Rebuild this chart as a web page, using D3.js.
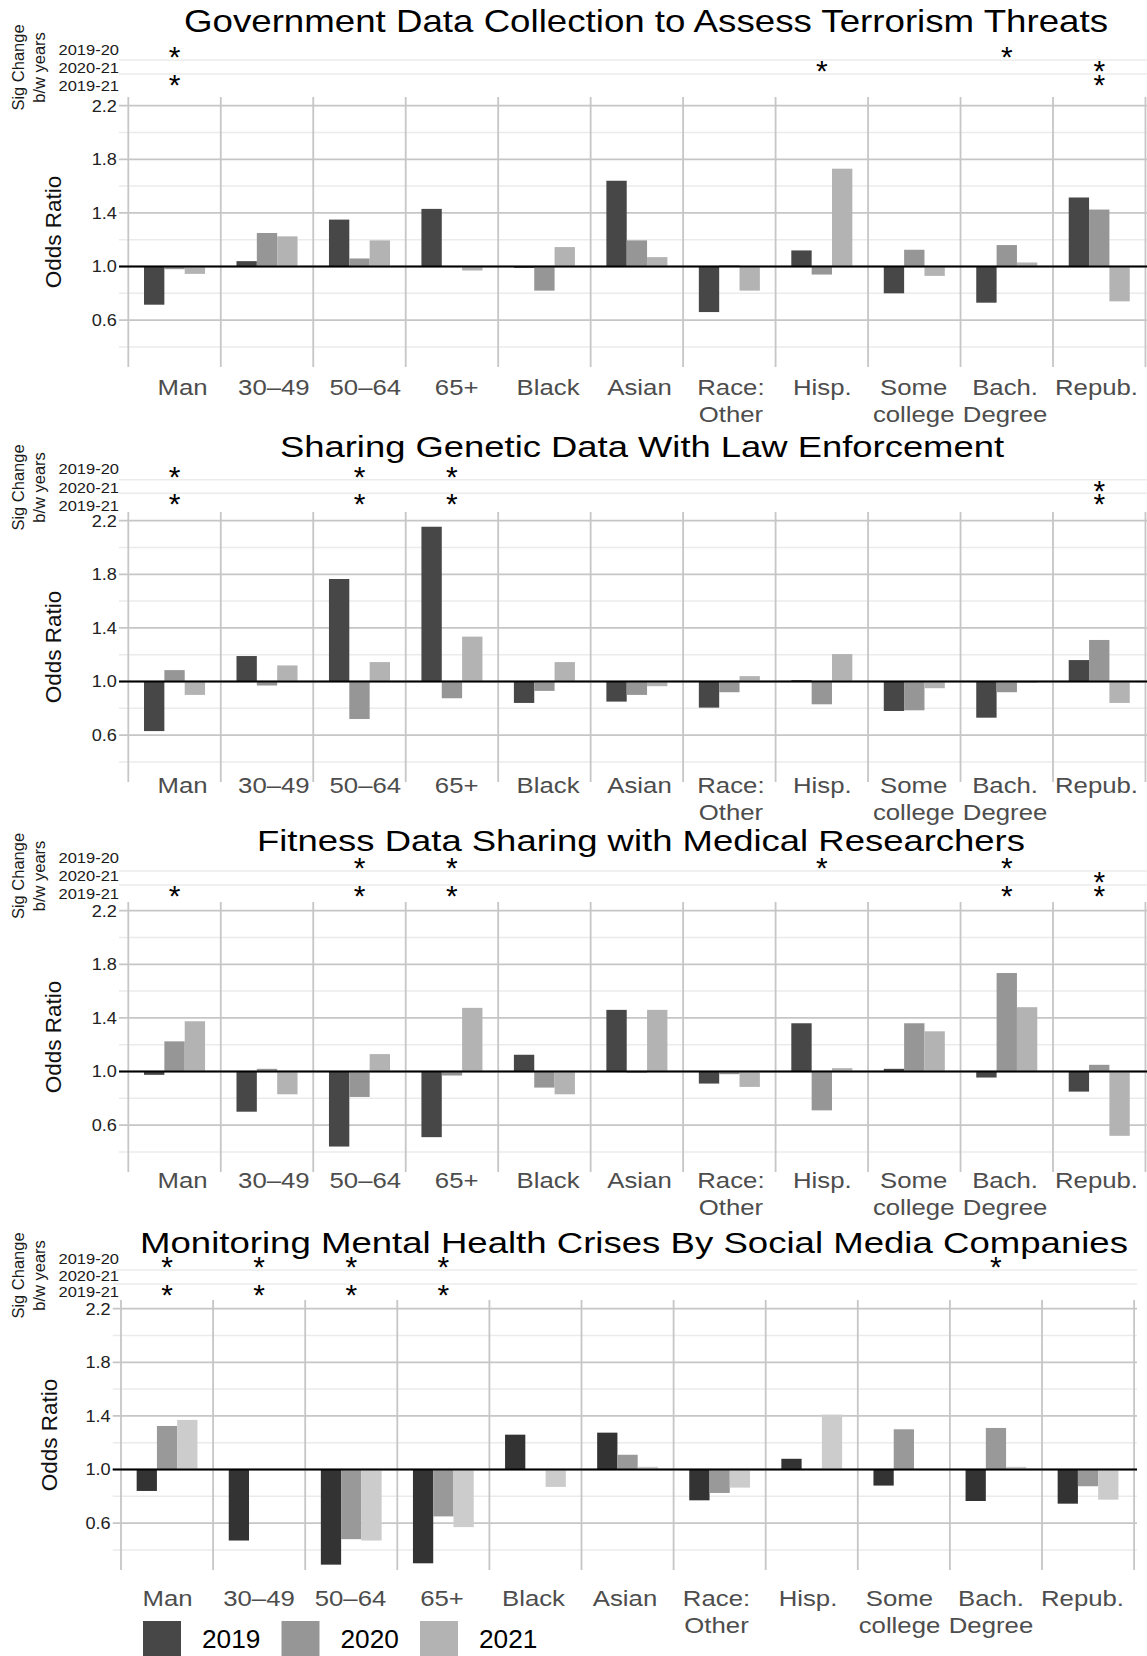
<!DOCTYPE html>
<html>
<head>
<meta charset="utf-8">
<script src="https://cdn.jsdelivr.net/npm/d3@7"></script>
<style>
  body { margin: 0; background: #fff; }
  svg { display: block; font-family: "Liberation Sans", Arial, sans-serif; }
</style>
</head>
<body>
<div id="chart"></div>
<script>
// ---- data ----
const categories = ["Man", "30–49", "50–64", "65+", "Black", "Asian", "Race:\nOther", "Hisp.", "Some\ncollege", "Bach.\nDegree", "Repub."]
const years = ["2019", "2020", "2021"]
const sigRows = ["2019-20", "2020-21", "2019-21"]
const yMajorTicks = [0.6, 1.0, 1.4, 1.8, 2.2]
const yMinorTicks = [0.4, 0.8, 1.2, 1.6, 2.0]

const titles = [
  "Government Data Collection to Assess Terrorism Threats",
  "Sharing Genetic Data With Law Enforcement",
  "Fitness Data Sharing with Medical Researchers",
  "Monitoring Mental Health Crises By Social Media Companies"
]

// odds ratios, one array per year, in category order
const terror2019 = [0.715, 1.04, 1.35, 1.43, 0.99, 1.64, 0.66, 1.12, 0.80, 0.73, 1.515]
const terror2020 = [0.98, 1.25, 1.06, 1.00, 0.82, 1.195, 1.01, 0.94, 1.125, 1.16, 1.425]
const terror2021 = [0.945, 1.225, 1.195, 0.97, 1.145, 1.07, 0.82, 1.73, 0.93, 1.03, 0.74]

const genetic2019 = [0.63, 1.19, 1.765, 2.155, 0.84, 0.85, 0.805, 1.01, 0.78, 0.73, 1.16]
const genetic2020 = [1.085, 0.97, 0.72, 0.875, 0.93, 0.90, 0.92, 0.83, 0.785, 0.92, 1.31]
const genetic2021 = [0.90, 1.12, 1.145, 1.335, 1.145, 0.965, 1.04, 1.205, 0.95, 0.99, 0.84]

const fitness2019 = [0.975, 0.70, 0.44, 0.51, 1.125, 1.46, 0.91, 1.36, 1.02, 0.955, 0.85]
const fitness2020 = [1.225, 1.02, 0.81, 0.97, 0.88, 0.99, 0.98, 0.71, 1.36, 1.735, 1.05]
const fitness2021 = [1.375, 0.83, 1.13, 1.475, 0.83, 1.46, 0.885, 1.025, 1.30, 1.48, 0.52]

const mental2019 = [0.84, 0.47, 0.29, 0.30, 1.26, 1.275, 0.77, 1.08, 0.88, 0.765, 0.745]
const mental2020 = [1.325, 1.00, 0.48, 0.65, 1.00, 1.11, 0.825, 1.00, 1.30, 1.31, 0.875]
const mental2021 = [1.37, 1.00, 0.47, 0.57, 0.87, 1.02, 0.865, 1.41, 1.00, 1.02, 0.775]

// significant change between years (categories marked with *)
const terrorSig = { "2019-20": ["Man", "Bach.\nDegree"], "2020-21": ["Hisp.", "Repub."], "2019-21": ["Man", "Repub."] }
const geneticSig = { "2019-20": ["Man", "50–64", "65+"], "2020-21": ["Repub."], "2019-21": ["Man", "50–64", "65+", "Repub."] }
const fitnessSig = { "2019-20": ["50–64", "65+", "Hisp.", "Bach.\nDegree"], "2020-21": ["Repub."], "2019-21": ["Man", "50–64", "65+", "Bach.\nDegree", "Repub."] }
const mentalSig = { "2019-20": ["Man", "30–49", "50–64", "65+", "Bach.\nDegree"], "2020-21": [], "2019-21": ["Man", "30–49", "50–64", "65+"] }

// ---- styles / layout ----
const W = 1147, H = 1656
const greysA = ["#474747", "#969696", "#b3b3b3"]
const greysB = ["#333333", "#999999", "#cccccc"]
const panelH = 270

const panels = [
  { title: titles[0], values: [terror2019, terror2020, terror2021], sig: terrorSig, fills: greysA,
    top: 97, x0: 128.3, step: 92.47, left: 119, right: 1160, titleX: 646, titleY: 32, titleW: 924, titleSize: 30.5,
    labY: [49.5, 85.5], starY: [53, 81], tickY: 395, labRange: [182, 1096], oddsX: 61 },
  { title: titles[1], values: [genetic2019, genetic2020, genetic2021], sig: geneticSig, fills: greysA,
    top: 512, x0: 128.3, step: 92.47, left: 119, right: 1160, titleX: 642, titleY: 457, titleW: 724, titleSize: 30,
    labY: [469, 506], starY: [473, 500], tickY: 793, labRange: [182, 1096], oddsX: 61 },
  { title: titles[2], values: [fitness2019, fitness2020, fitness2021], sig: fitnessSig, fills: greysA,
    top: 902, x0: 128.3, step: 92.47, left: 119, right: 1160, titleX: 641, titleY: 851, titleW: 768, titleSize: 29,
    labY: [858, 894], starY: [864, 892], tickY: 1188, labRange: [182, 1096], oddsX: 61 },
  { title: titles[3], values: [mental2019, mental2020, mental2021], sig: mentalSig, fills: greysB,
    top: 1300, x0: 121, step: 92.1, left: 112.7, right: 1137, titleX: 634, titleY: 1253, titleW: 988, titleSize: 30,
    labY: [1259, 1292], starY: [1263, 1291], tickY: 1606, labRange: [167, 1082], oddsX: 57 }
]

const svg = d3.select("#chart").append("svg")
  .attr("width", W)
  .attr("height", H)

svg.append("rect").attr("width", W).attr("height", H).attr("fill", "#fff")

const drawPanel = (p) => {
  const g = svg.append("g")
  const x = d3.scaleBand().domain(categories).range([p.x0, p.x0 + categories.length * p.step])
  const xYear = d3.scaleBand().domain(years).range([0, x.bandwidth() * 0.66])
  const xLab = d3.scalePoint().domain(categories).range(p.labRange)
  const y = d3.scaleLinear().domain([0.25, 2.265]).range([p.top + panelH, p.top])
  const yStar = d3.scalePoint().domain(sigRows).range(p.starY)
  const yLab = d3.scalePoint().domain(sigRows).range(p.labY)

  // title
  g.append("text")
    .attr("x", p.titleX)
    .attr("y", p.titleY)
    .attr("text-anchor", "middle")
    .attr("font-size", p.titleSize)
    .attr("textLength", p.titleW)
    .attr("lengthAdjust", "spacingAndGlyphs")
    .attr("fill", "#000")
    .text(p.title)

  // sig strip: faint separators between rows
  const sepY = [(yStar(sigRows[0]) + yStar(sigRows[1])) / 2, (yStar(sigRows[1]) + yStar(sigRows[2])) / 2]
  g.selectAll(".sep").data(sepY).join("line")
    .attr("x1", p.left).attr("x2", p.right)
    .attr("y1", d => d).attr("y2", d => d)
    .attr("stroke", "#ebebeb").attr("stroke-width", 1.5)

  g.selectAll(".siglab").data(sigRows).join("text")
    .attr("transform", r => `translate(119,${yLab(r)}) scale(1.1,1)`)
    .attr("text-anchor", "end")
    .attr("dy", "0.36em")
    .attr("font-size", 15)
    .attr("fill", "#1a1a1a")
    .text(r => r)

  const midLab = (p.labY[0] + p.labY[1]) / 2
  ;[["Sig Change", 24], ["b/w years", 45]].forEach(([t, tx]) => {
    g.append("text")
      .attr("transform", `translate(${tx},${midLab}) rotate(-90)`)
      .attr("text-anchor", "middle")
      .attr("font-size", 16.5)
      .attr("fill", "#1a1a1a")
      .text(t)
  })

  // asterisks: glyph sits high in the em box, so pull the baseline up to centre it on the row
  const stars = sigRows.flatMap(r => p.sig[r].map(c => ({ r, c })))
  const starSize = 30
  g.selectAll(".star").data(stars).join("text")
    .attr("x", d => x(d.c) + x.bandwidth() / 2)
    .attr("y", d => yStar(d.r) + starSize * 0.48)
    .attr("text-anchor", "middle")
    .attr("font-size", starSize)
    .attr("fill", "#000")
    .text("*")

  // grid
  g.selectAll(".minor").data(yMinorTicks).join("line")
    .attr("x1", p.left).attr("x2", p.right)
    .attr("y1", d => y(d)).attr("y2", d => y(d))
    .attr("stroke", "#ebebeb").attr("stroke-width", 1.5)

  g.selectAll(".major").data(yMajorTicks).join("line")
    .attr("x1", p.left).attr("x2", p.right)
    .attr("y1", d => y(d)).attr("y2", d => y(d))
    .attr("stroke", "#c6c6c6").attr("stroke-width", 1.8)

  const bounds = [...categories.map(c => x(c)), x.range()[1]]
  g.selectAll(".vline").data(bounds).join("line")
    .attr("x1", d => d).attr("x2", d => d)
    .attr("y1", p.top).attr("y2", p.top + panelH)
    .attr("stroke", "#c6c6c6").attr("stroke-width", 1.8)

  // bars from 1.0
  const bars = categories.flatMap((c, i) => years.map((yr, j) => ({ c, yr, j, v: p.values[j][i] })))
  g.selectAll(".bar").data(bars).join("rect")
    .attr("x", d => x(d.c) + x.bandwidth() * 0.17 + xYear(d.yr))
    .attr("width", xYear.bandwidth())
    .attr("y", d => y(Math.max(d.v, 1)))
    .attr("height", d => Math.abs(y(d.v) - y(1)))
    .attr("fill", d => p.fills[d.j])

  g.append("line")
    .attr("x1", p.left).attr("x2", p.right)
    .attr("y1", y(1)).attr("y2", y(1))
    .attr("stroke", "#000").attr("stroke-width", 2.2)

  // y axis
  g.append("g")
    .attr("transform", `translate(${p.left - 1},0)`)
    .call(d3.axisLeft(y).tickValues(yMajorTicks).tickFormat(d3.format(".1f")).tickSize(0).tickPadding(1))
    .attr("font-family", null)
    .attr("font-size", 16.5)
    .call(a => a.select(".domain").remove())
    .call(a => a.selectAll("text").attr("fill", "#222").attr("transform", "scale(1.1,1)"))

  g.append("text")
    .attr("transform", `translate(${p.oddsX},${p.top + panelH / 2}) rotate(-90)`)
    .attr("text-anchor", "middle")
    .attr("font-size", 22.5)
    .attr("fill", "#111")
    .text("Odds Ratio")

  // category axis
  g.append("g")
    .attr("transform", `translate(0,${p.tickY})`)
    .call(d3.axisBottom(xLab).tickSize(0).tickPadding(0))
    .attr("font-family", null)
    .attr("font-size", 23)
    .call(a => a.select(".domain").remove())
    .call(a => a.selectAll("text")
      .attr("y", 0).attr("dy", null)
      .attr("fill", "#4d4d4d")
      .attr("transform", "scale(1.12,1)")
      .each(function (d) {
        const t = d3.select(this).text(null)
        d.split("\n").forEach((line, k) => t.append("tspan").attr("x", 0).attr("dy", k ? 27 : 0).text(line))
      }))
}

panels.forEach(drawPanel)

// legend
const legendX = d3.scalePoint().domain(years).range([143, 420])
const legend = svg.append("g")
legend.selectAll("rect").data(years).join("rect")
  .attr("x", d => legendX(d))
  .attr("y", 1621)
  .attr("width", 38).attr("height", 38)
  .attr("fill", (d, i) => greysA[i])
legend.selectAll("text").data(years).join("text")
  .attr("transform", d => `translate(${legendX(d) + 59},1648) scale(1.05,1)`)
  .attr("font-size", 25)
  .attr("fill", "#000")
  .text(d => d)
</script>
</body>
</html>
